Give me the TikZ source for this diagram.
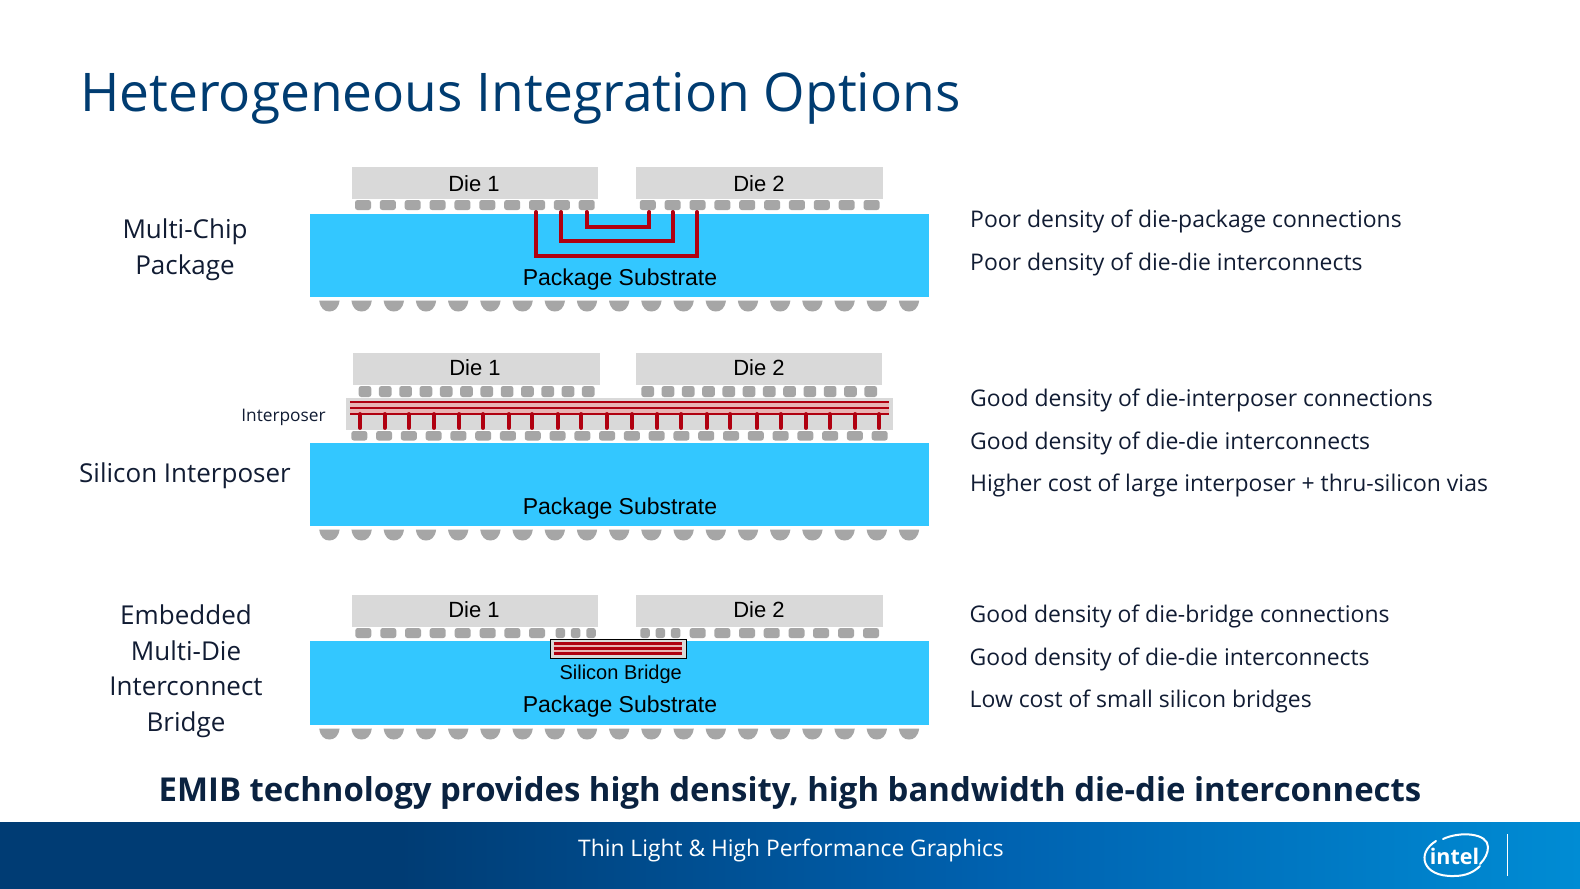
\documentclass[tikz,border=0pt]{standalone}
\usepackage{fontspec}
\setmainfont{Open Sans}
\newfontfamily\arialf{Liberation Sans}
\definecolor{titleblue}{HTML}{003C71}
\definecolor{claimink}{HTML}{0A2240}
\definecolor{subcyan}{HTML}{33C7FF}
\definecolor{diegrey}{HTML}{D9D9D9}
\definecolor{bumpgrey}{HTML}{A6A6A6}
\definecolor{wirered}{HTML}{B00010}
\definecolor{pinkfill}{HTML}{E8B4B4}
\definecolor{inktext}{HTML}{111C33}
\definecolor{footA}{HTML}{003C74}
\definecolor{footB}{HTML}{0062B0}
\definecolor{footC}{HTML}{008CD4}
\tikzset{
  x=1pt,y=-1pt,
  die/.style={fill=diegrey,draw=none},
  substrate/.style={fill=subcyan,draw=none},
  wire/.style={draw=wirered,line width=4pt,line join=miter,line cap=round},
  hwire/.style={draw=wirered,line width=2.2pt},
  bwire/.style={draw=wirered,line width=2.5pt},
  lbl/.style={inner sep=0pt,font=\arialf\fontsize{22}{24}\selectfont,text=black,anchor=base},
  pslbl/.style={inner sep=0pt,font=\arialf\fontsize{23}{24}\selectfont,text=black,anchor=base},
  slabel/.style={inner sep=0pt,font=\fontsize{26}{28}\selectfont,text=inktext,anchor=base},
  rlabel/.style={inner sep=0pt,font=\fontsize{22.95}{24}\selectfont,text=inktext,anchor=base west},
  logoline/.style={draw=white,line width=2pt,line cap=round},
}
\newcommand{\smallbump}[4]{\fill[bumpgrey,rounded corners=2.5pt] (#1-#3/2,#2) rectangle (#1+#3/2,#2+#4);}
\newcommand{\ballrow}[1]{\foreach \i in {0,...,18}{%
  \fill[bumpgrey] ({329.4+32.2*\i-10.2},#1) .. controls ({329.4+32.2*\i-9},#1+8) and ({329.4+32.2*\i-5},#1+11) .. ({329.4+32.2*\i},#1+11) .. controls ({329.4+32.2*\i+5},#1+11) and ({329.4+32.2*\i+9},#1+8) .. ({329.4+32.2*\i+10.2},#1) -- cycle;}}
\begin{document}
\begin{tikzpicture}
\useasboundingbox (0,0) rectangle (1580,889);
\fill[white] (0,0) rectangle (1580,889);
\node[inner sep=0pt,anchor=base west,text=titleblue,font=\fontsize{53.3}{58}\selectfont] (title) at (80,111) {Heterogeneous Integration Options};

% --- Multi-chip package
\fill[die] (352,167) rectangle (598,199);
\fill[die] (636,167) rectangle (883,199);
\foreach \i in {0,...,9}{\smallbump{363+24.86*\i}{200}{16}{10}}
\foreach \i in {0,...,9}{\smallbump{647.8+24.86*\i}{200}{16}{10}}
\fill[substrate] (310,214) rectangle (929,297);
\draw[wire] (536,212) -- (536,255.7) -- (697,255.7) -- (697,212);
\draw[wire] (561,212) -- (561,240.5) -- (672.6,240.5) -- (672.6,212);
\draw[wire] (586.5,212) -- (586.5,226.7) -- (649.4,226.7) -- (649.4,212);
\ballrow{300.5}
\node[lbl] (d11) at (474,191) {Die 1};
\node[lbl] (d12) at (759,191) {Die 2};
\node[pslbl] (ps1) at (620,285.5) {Package Substrate};
\node[slabel] (mc1) at (185,238) {Multi-Chip};
\node[slabel] (mc2) at (185,274.5) {Package};
\node[rlabel] (r11) at (970,227) {Poor density of die-package connections};
\node[rlabel] (r12) at (970,270.5) {Poor density of die-die interconnects};

% --- Silicon interposer
\fill[die] (353,353) rectangle (600,385);
\fill[die] (636,353) rectangle (882,385);
\foreach \i in {0,...,11}{\smallbump{365+20.3*\i}{386}{12.7}{11}}
\foreach \i in {0,...,11}{\smallbump{647.7+20.27*\i}{386}{12.7}{11}}
\fill[die] (346,398.3) rectangle (893,430);
\fill[pinkfill] (350,401.7) rectangle (888.7,414);
\draw[hwire] (350,401.7) -- (888.7,401.7);
\draw[hwire] (350,407.7) -- (888.7,407.7);
\draw[hwire] (350,414) -- (888.7,414);
\foreach \x in {360,384.7,408.7,434,459.3,483,508.7,532,557.7,581.3,606.7,632,657.3,681.3,706.7,730.3,757,780.7,806,829.7,855.3,879}{
  \draw[draw=wirered,line width=3.8pt,line cap=round] (\x,414) -- (\x,428);}
\foreach \i in {0,...,21}{\smallbump{359.3+24.78*\i}{431}{16}{9.5}}
\fill[substrate] (310,443) rectangle (929,526);
\ballrow{529.5}
\node[lbl] (d21) at (475,375) {Die 1};
\node[lbl] (d22) at (759,375) {Die 2};
\node[pslbl] (ps2) at (620,514.5) {Package Substrate};
\node[slabel] (si) at (185,482.5) {Silicon Interposer};
\node[inner sep=0pt,anchor=base,text=inktext,font=\fontsize{17.3}{20}\selectfont] (ip) at (283.5,421.5) {Interposer};
\node[rlabel] (r21) at (970,406) {Good density of die-interposer connections};
\node[rlabel] (r22) at (970,449.5) {Good density of die-die interconnects};
\node[rlabel] (r23) at (970,491) {Higher cost of large interposer + thru-silicon vias};

% --- EMIB
\fill[die] (352,595) rectangle (598,627);
\fill[die] (636,595) rectangle (883,627);
\foreach \x in {363.3,388.3,413,437.7,462.7,487.7,512.3,537}{\smallbump{\x}{628}{16}{10}}
\foreach \x in {560.3,575.7,591,645,660.3,675.7}{\smallbump{\x}{628}{9.5}{10}}
\foreach \x in {697.7,722.3,747,771.7,796.5,821,846,871}{\smallbump{\x}{628}{16}{10}}
\fill[substrate] (310,641) rectangle (929,725);
\draw[fill=diegrey,draw=black,line width=1pt] (550.5,639.5) rectangle (686.5,658.5);
\fill[pinkfill] (553.7,643.3) rectangle (682,653.3);
\draw[bwire] (553.7,643.3) -- (682,643.3);
\draw[bwire] (553.7,648.3) -- (682,648.3);
\draw[bwire] (553.7,653.3) -- (682,653.3);
\ballrow{728.5}
\node[lbl] (d31) at (474,617) {Die 1};
\node[lbl] (d32) at (759,617) {Die 2};
\node[lbl,font=\arialf\fontsize{20}{22}\selectfont] (sb) at (620.7,679) {Silicon Bridge};
\node[pslbl] (ps3) at (620,712.5) {Package Substrate};
\node[slabel] (em1) at (186,624) {Embedded};
\node[slabel] (em2) at (186,660) {Multi-Die};
\node[slabel] (em3) at (186,695.5) {Interconnect};
\node[slabel] (em4) at (186,731) {Bridge};
\node[rlabel] (r31) at (969.5,622) {Good density of die-bridge connections};
\node[rlabel] (r32) at (969.5,665) {Good density of die-die interconnects};
\node[rlabel] (r33) at (969.5,707.5) {Low cost of small silicon bridges};

% --- Claim
\node[inner sep=0pt,anchor=base,text=claimink,font=\bfseries\fontsize{32.9}{38}\selectfont] (claim) at (790,801.5) {EMIB technology provides high density, high bandwidth die-die interconnects};

% --- Footer
\fill[footA] (0,822) rectangle (401,889);
\shade[left color=footA,right color=footB] (400,822) rectangle (1001,889);
\shade[left color=footB,right color=footC] (1000,822) rectangle (1580,889);
\node[inner sep=0pt,anchor=base,text=white,font=\fontsize{22.8}{26}\selectfont] (foot) at (791,856.5) {Thin Light \& High Performance Graphics};
\node[inner sep=0pt,anchor=base,text=white,font=\bfseries\fontsize{21.5}{26}\selectfont] (intel) at (1454.5,864.5) {intel};
\draw[logoline] (1436,841) .. controls (1416,853) and (1422,877) .. (1454,876) .. controls (1466,876) and (1474,872) .. (1480,866);
\draw[logoline] (1443,839) .. controls (1460,831) and (1488,833) .. (1488,847) .. controls (1488,853) and (1485,859) .. (1480,864);
\draw[white,line width=1.2pt] (1507.7,834) -- (1507.7,875.7);
\end{tikzpicture}
\end{document}
